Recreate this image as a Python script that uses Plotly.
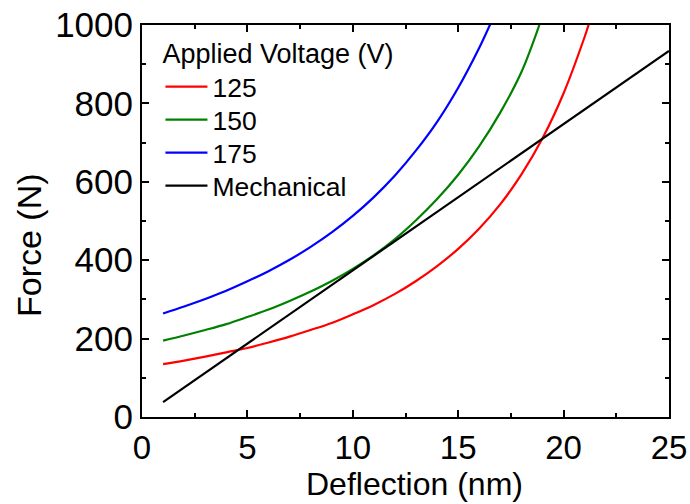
import plotly.graph_objects as go

# Data
x_mech = [1, 25]
f_mech = [38, 934]

x_125 = [1, 2, 3, 4, 5, 6, 7, 8, 9, 10, 11, 12, 13, 14, 15, 16, 17, 18, 19, 20, 21, 21.2]
f_125 = [135, 144, 154, 165, 176, 190, 205, 222, 240, 262, 286, 314, 347, 385, 429, 481, 543, 619, 711, 826, 970, 1003]

x_150 = [1, 2, 3, 4, 5, 6, 7, 8, 9, 10, 11, 12, 13, 14, 15, 16, 17, 18, 18.85]
f_150 = [195, 208, 222, 237, 255, 274, 296, 320, 347, 378, 413, 454, 502, 556, 618, 691, 777, 880, 1000]

x_175 = [1, 2, 3, 4, 5, 6, 7, 8, 9, 10, 11, 12, 13, 14, 15, 16, 16.52]
f_175 = [264, 282, 301, 322, 346, 372, 401, 434, 471, 513, 561, 616, 680, 753, 840, 942, 1002]

FONT = "Liberation Sans, Arial, sans-serif"
LEG_FONT = dict(family=FONT, size=26.5, color="black")

fig = go.Figure()
fig.add_trace(go.Scatter(x=x_125, y=f_125, mode="lines", name="125", legend="legend",
                         line=dict(color="#FF0000", width=2.2, shape="spline")))
fig.add_trace(go.Scatter(x=x_150, y=f_150, mode="lines", name="150", legend="legend2",
                         line=dict(color="#008000", width=2.2, shape="spline")))
fig.add_trace(go.Scatter(x=x_175, y=f_175, mode="lines", name="175", legend="legend3",
                         line=dict(color="#0000FF", width=2.2, shape="spline")))
fig.add_trace(go.Scatter(x=x_mech, y=f_mech, mode="lines", name="Mechanical", legend="legend4",
                         line=dict(color="#000000", width=2.2)))

axis_common = dict(
    showline=True, linecolor="black", linewidth=2, mirror="ticks",
    ticks="inside", ticklen=7, tickwidth=2, tickcolor="black",
    showgrid=False, zeroline=False, automargin=False,
    minor=dict(ticks="inside", ticklen=4, tickwidth=2, tickcolor="black", showgrid=False),
)

def leg(y, anchor="middle", **kw):
    return dict(x=0.035, y=y, xanchor="left", yanchor=anchor,
                bgcolor="rgba(0,0,0,0)", borderwidth=0, font=LEG_FONT,
                itemwidth=42, tracegroupgap=0, **kw)

fig.update_layout(
    width=690, height=504,
    margin=dict(l=142, r=21, t=25, b=87),
    paper_bgcolor="white", plot_bgcolor="white",
    font=dict(family=FONT, color="black"),
    showlegend=True,
    legend=leg(0.993, "top", title=dict(text="Applied Voltage (V)",
                                        font=dict(family=FONT, size=27, color="black"))),
    legend2=leg(0.7577),
    legend3=leg(0.6735),
    legend4=leg(0.5893),
    xaxis=dict(
        range=[0, 25], dtick=5, tick0=0,
        tickfont=dict(family=FONT, size=33, color="black"),
        **axis_common,
    ),
    yaxis=dict(
        range=[0, 1000], dtick=200, tick0=0,
        tickfont=dict(family=FONT, size=35, color="black"),
        **axis_common,
    ),
    annotations=[
        dict(text="Deflection (nm)", xref="paper", yref="paper", x=0.518, y=-0.2219,
             xanchor="center", yanchor="bottom", showarrow=False,
             font=dict(family=FONT, size=32, color="black")),
        dict(text="Force (N)", xref="paper", yref="paper", x=-0.2144, y=0.4388,
             xanchor="center", yanchor="middle", showarrow=False, textangle=-90,
             font=dict(family=FONT, size=34, color="black")),
    ],
)
fig.update_xaxes(minor=dict(dtick=2.5))
fig.update_yaxes(minor=dict(dtick=100))

fig.write_html("out.html")
